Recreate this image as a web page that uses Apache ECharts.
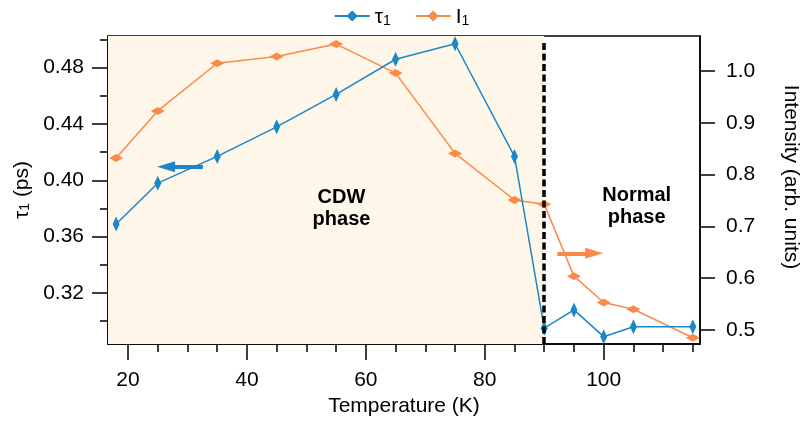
<!DOCTYPE html>
<html>
<head>
<meta charset="utf-8">
<script src="https://cdn.jsdelivr.net/npm/echarts@6/dist/echarts.min.js"></script>
<style>html,body{margin:0;padding:0;background:#fff;}#c{width:803px;height:425px;}</style>
</head>
<body>
<div id="c"></div>
<script>
// ---- data ----
const temps = [18, 25, 35, 45, 55, 65, 75, 85, 90, 95, 100, 105, 115];
const tau1 = [0.369, 0.398, 0.417, 0.438, 0.461, 0.486, 0.497, 0.417, 0.295, 0.308, 0.289, 0.296, 0.296];
const int1 = [0.832, 0.923, 1.015, 1.028, 1.052, 0.996, 0.841, 0.751, 0.743, 0.604, 0.553, 0.540, 0.485];
const xMajorTicks = [20, 40, 60, 80, 100];
const xMinorTicks = [25, 30, 35, 45, 50, 55, 65, 70, 75, 85, 90, 95, 105, 110, 115];
const tauMajorTicks = [0.32, 0.36, 0.40, 0.44, 0.48];
const tauMinorTicks = [0.30, 0.34, 0.38, 0.42, 0.46, 0.50];
const intTicks = [0.5, 0.6, 0.7, 0.8, 0.9, 1.0];
const transitionT = 90;
const transitionTauRange = [0.2838, 0.4975];
const tauArrow = [[32.6, 0.4097], [26.4, 0.4097]];
const intArrow = [[92.2, 0.648], [98.4, 0.648]];
const cdwLabel = [55.9, 0.3797];
const normalLabel = [105.55, 0.3815];

const X_MIN = 16.63, X_MAX = 116.2;
const TAU_MIN = 0.2838, TAU_MAX = 0.5025;
const INT_MIN = 0.473, INT_MAX = 1.0676;

const BLUE = '#1a87c8', ORANGE = '#fb8a4a';
const FONT = '"Liberation Sans", Arial, Helvetica, sans-serif';

const chart = echarts.init(document.getElementById('c'), null, {renderer: 'canvas'});

const subRich = {
  a: {fontSize: 21, fontFamily: FONT, color: '#000', lineHeight: 24, verticalAlign: 'bottom'},
  s: {fontSize: 14, fontFamily: FONT, color: '#000', lineHeight: 10, verticalAlign: 'bottom'}
};

const axisBase = {
  type: 'value',
  splitLine: {show: false},
  axisLine: {show: true, lineStyle: {color: '#000', width: 1.5}},
  axisTick: {show: true, inside: false, lineStyle: {color: '#000', width: 1.5}},
  axisLabel: {color: '#000', fontSize: 21, fontFamily: FONT}
};

const option = {
  animation: false,
  backgroundColor: '#fff',
  textStyle: {fontFamily: FONT},
  grid: {left: 108, right: 103, top: 36, bottom: 81, show: true, borderColor: '#000', borderWidth: 1.5,
    backgroundColor: 'transparent', containLabel: false, outerBoundsMode: 'none'},
  legend: {
    top: 2, left: 'center',
    itemWidth: 35, itemHeight: 14, itemGap: 24,
    data: ['τ1', 'I1'],
    formatter: function (n) { return n === 'τ1' ? '{a|τ}{s|1}' : '{a|I}{s|1}'; },
    textStyle: {rich: subRich}
  },
  xAxis: [
    Object.assign({}, axisBase, {
      min: X_MIN, max: X_MAX, position: 'bottom',
      name: 'Temperature (K)', nameLocation: 'middle', nameGap: 52,
      nameTextStyle: {fontSize: 21, fontFamily: FONT, color: '#000'},
      axisTick: {show: true, length: 16, customValues: xMajorTicks, lineStyle: {color: '#000', width: 1.5}},
      axisLabel: {color: '#000', fontSize: 21, fontFamily: FONT, margin: 26, customValues: xMajorTicks}
    }),
    Object.assign({}, axisBase, {
      min: X_MIN, max: X_MAX, position: 'bottom',
      axisLine: {show: false},
      axisTick: {show: true, length: 8, customValues: xMinorTicks, lineStyle: {color: '#000', width: 1.5}},
      axisLabel: {show: false}
    })
  ],
  yAxis: [
    Object.assign({}, axisBase, {
      min: TAU_MIN, max: TAU_MAX, position: 'left',
      name: '{a|τ}{s|1}{a| (ps)}', nameLocation: 'middle', nameGap: 74,
      nameTextStyle: {rich: subRich},
      axisTick: {show: true, length: 16, customValues: tauMajorTicks, lineStyle: {color: '#000', width: 1.5}},
      axisLabel: {color: '#000', fontSize: 21, fontFamily: FONT, margin: 24, customValues: tauMajorTicks,
        formatter: function (v) { return v.toFixed(2); }}
    }),
    Object.assign({}, axisBase, {
      min: INT_MIN, max: INT_MAX, position: 'right',
      name: 'Intensity (arb. units)', nameLocation: 'middle', nameGap: 80, nameRotate: -90,
      nameTextStyle: {fontSize: 21, fontFamily: FONT, color: '#000', padding: [0, 26, 0, 0]},
      axisTick: {show: true, length: 15, customValues: intTicks, lineStyle: {color: '#000', width: 1.5}},
      axisLabel: {color: '#000', fontSize: 21, fontFamily: FONT, margin: 26, customValues: intTicks,
        formatter: function (v) { return v.toFixed(1); }}
    }),
    Object.assign({}, axisBase, {
      min: TAU_MIN, max: TAU_MAX, position: 'left',
      axisLine: {show: false},
      axisTick: {show: true, length: 8, customValues: tauMinorTicks, lineStyle: {color: '#000', width: 1.5}},
      axisLabel: {show: false}
    })
  ],
  series: [
    {
      name: 'bg', type: 'line', data: [], xAxisIndex: 0, yAxisIndex: 0, z: 1, silent: true,
      markArea: {silent: true, itemStyle: {color: '#fef6e9'}, data: [[{xAxis: X_MIN}, {xAxis: transitionT}]]},
      markLine: {
        silent: true, symbol: ['none', 'none'], label: {show: false},
        lineStyle: {color: '#000', width: 3.5, type: [7, 3.5]},
        data: [[{coord: [transitionT, transitionTauRange[1]]}, {coord: [transitionT, transitionTauRange[0]]}]]
      },
      markPoint: {
        silent: true, symbol: 'circle', symbolSize: 0,
        label: {show: true, position: 'inside', fontSize: 20, fontWeight: 'bold', fontFamily: FONT, color: '#000', lineHeight: 22, align: 'center'},
        data: [
          {coord: cdwLabel, value: 'CDW\nphase', label: {formatter: 'CDW\nphase'}},
          {coord: normalLabel, value: 'Normal\nphase', label: {formatter: 'Normal\nphase'}}
        ]
      }
    },
    {
      name: 'I1', type: 'line', xAxisIndex: 0, yAxisIndex: 1, z: 3,
      data: temps.map((t, i) => [t, int1[i]]),
      color: ORANGE,
      lineStyle: {color: ORANGE, width: 1.5},
      itemStyle: {color: ORANGE},
      symbol: 'diamond', symbolSize: [14, 8], showAllSymbol: true,
      markLine: {
        silent: true, symbol: ['none', 'triangle'], symbolSize: [11, 18], label: {show: false},
        lineStyle: {color: ORANGE, width: 4, type: 'solid'},
        data: [[{coord: intArrow[0]}, {coord: intArrow[1]}]]
      }
    },
    {
      name: 'τ1', type: 'line', xAxisIndex: 0, yAxisIndex: 0, z: 4,
      data: temps.map((t, i) => [t, tau1[i]]),
      color: BLUE,
      lineStyle: {color: BLUE, width: 1.5},
      itemStyle: {color: BLUE},
      symbol: 'diamond', symbolSize: [7, 15], showAllSymbol: true,
      markLine: {
        silent: true, symbol: ['none', 'triangle'], symbolSize: [11, 18], label: {show: false},
        lineStyle: {color: BLUE, width: 4, type: 'solid'},
        data: [[{coord: tauArrow[0]}, {coord: tauArrow[1]}]]
      }
    }
  ]
};
chart.setOption(option);
</script>
</body>
</html>
